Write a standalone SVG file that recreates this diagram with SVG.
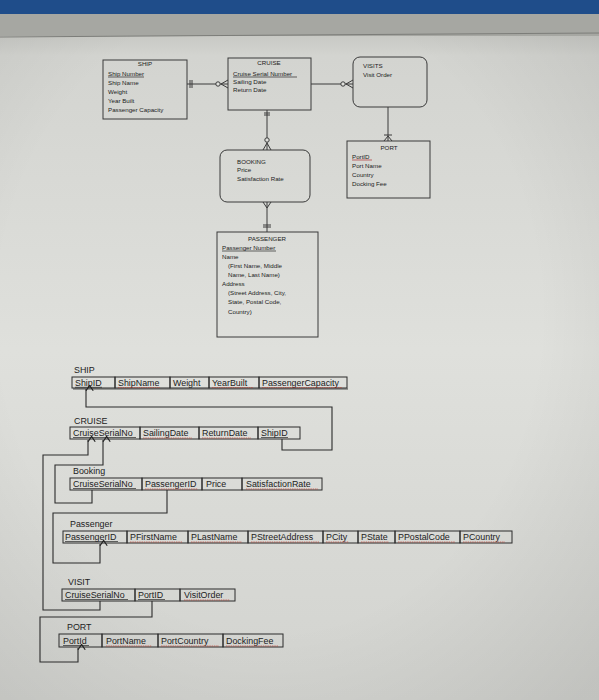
<svg xmlns="http://www.w3.org/2000/svg" width="599" height="700" viewBox="0 0 599 700">
<defs>
<linearGradient id="page" x1="0" y1="0" x2="0" y2="1">
<stop offset="0" stop-color="#b4b5b0"/>
<stop offset="0.08" stop-color="#d3d4d0"/>
<stop offset="0.5" stop-color="#dfe0dc"/>
<stop offset="1" stop-color="#d2d3cf"/>
</linearGradient>
<radialGradient id="vig" cx="0.45" cy="0.45" r="0.75">
<stop offset="0.6" stop-color="#000" stop-opacity="0"/>
<stop offset="1" stop-color="#000" stop-opacity="0.08"/>
</radialGradient>
<marker id="arr" viewBox="0 0 10 10" refX="5" refY="1" markerWidth="9" markerHeight="9" orient="auto" markerUnits="userSpaceOnUse">
<path d="M1,7 L5,1 L9,7" fill="none" stroke="#222" stroke-width="1.3" transform="rotate(90 5 5)"/>
</marker>
</defs>
<style>
.er{fill:none;stroke:#3a3a3a;stroke-width:1}
.et{font-family:"Liberation Sans",Arial,sans-serif;font-size:6.2px;fill:#222}
.ec{text-anchor:middle}
.cell{fill:none;stroke:#2b2b2b;stroke-width:1}
.st{font-family:"Liberation Sans",Arial,sans-serif;font-size:8.9px;fill:#222}
.lb{font-family:"Liberation Sans",Arial,sans-serif;font-size:8.9px;fill:#222}
.sq{stroke:#c0392b;stroke-width:0.8;fill:none;stroke-dasharray:1.5 0.8;opacity:0.8}
.pk{stroke:#2a2a2a;stroke-width:0.7}
.ln{fill:none;stroke:#2b2b2b;stroke-width:1.1}
.cn{fill:none;stroke:#3a3a3a;stroke-width:1}
</style>
<!-- background -->
<rect x="0" y="0" width="599" height="700" fill="url(#page)"/>
<rect x="0" y="0" width="599" height="700" fill="url(#vig)"/>
<rect x="0" y="0" width="599" height="14" fill="#1f4d8a"/>
<rect x="0" y="14" width="599" height="22" fill="#a6a7a2"/>
<line x1="0" y1="37" x2="599" y2="33" stroke="#7c7d79" stroke-width="1"/>

<!-- ER diagram -->
<g id="ship-er">
<rect class="er" x="103" y="60" width="84" height="59"/>
<text class="et ec" x="145" y="66">SHIP</text>
<text class="et" x="108" y="76">Ship Number</text>
<line class="pk" x1="108" y1="77" x2="144" y2="77"/>
<text class="et" x="108" y="85">Ship Name</text>
<text class="et" x="108" y="94">Weight</text>
<text class="et" x="108" y="103">Year Built</text>
<text class="et" x="108" y="112">Passenger Capacity</text>
</g>
<g id="cruise-er">
<rect class="er" x="228" y="58" width="83" height="52"/>
<text class="et ec" x="269" y="65">CRUISE</text>
<text class="et" x="233" y="76">Cruise Serial Number</text>
<line class="pk" x1="233" y1="77" x2="297" y2="77"/>
<text class="et" x="233" y="84">Sailing Date</text>
<text class="et" x="233" y="92">Return Date</text>
</g>
<g id="visits-er">
<rect class="er" x="353" y="57" width="74" height="50" rx="7"/>
<text class="et" x="363" y="68">VISITS</text>
<text class="et" x="363" y="77">Visit Order</text>
</g>
<g id="port-er">
<rect class="er" x="347" y="141" width="83" height="57"/>
<text class="et ec" x="389" y="150">PORT</text>
<text class="et" x="352" y="159">PortID</text>
<line x1="352" y1="160" x2="372" y2="160" stroke="#b03030" stroke-width="0.7"/>
<text class="et" x="352" y="168">Port Name</text>
<text class="et" x="352" y="177">Country</text>
<text class="et" x="352" y="186">Docking Fee</text>
</g>
<g id="booking-er">
<rect class="er" x="220" y="150" width="90" height="52" rx="7"/>
<text class="et" x="237" y="164">BOOKING</text>
<text class="et" x="237" y="172">Price</text>
<text class="et" x="237" y="181">Satisfaction Rate</text>
</g>
<g id="passenger-er">
<rect class="er" x="217" y="232" width="101" height="105"/>
<text class="et ec" x="267" y="241">PASSENGER</text>
<text class="et" x="222" y="250">Passenger Number</text>
<line class="pk" x1="222" y1="251" x2="276" y2="251"/>
<text class="et" x="222" y="259">Name</text>
<text class="et" x="228" y="268">(First Name, Middle</text>
<text class="et" x="228" y="277">Name, Last Name)</text>
<text class="et" x="222" y="286">Address</text>
<text class="et" x="228" y="295">(Street Address, City,</text>
<text class="et" x="228" y="304">State, Postal Code,</text>
<text class="et" x="228" y="314">Country)</text>
</g>

<g id="er-connectors">
<!-- SHIP - CRUISE -->
<line class="cn" x1="187" y1="84" x2="228" y2="84"/>
<line class="cn" x1="190" y1="80" x2="190" y2="88"/>
<line class="cn" x1="192" y1="80" x2="192" y2="88"/>
<circle cx="218" cy="84" r="2.2" fill="#dfe0dc" stroke="#3a3a3a" stroke-width="1"/>
<path class="cn" d="M221,84 L228,80 M221,84 L228,88"/>
<!-- CRUISE - VISITS -->
<line class="cn" x1="311" y1="84" x2="353" y2="84"/>
<circle cx="343" cy="84" r="2.2" fill="#dfe0dc" stroke="#3a3a3a" stroke-width="1"/>
<path class="cn" d="M346,84 L353,80 M346,84 L353,88"/>
<!-- VISITS - PORT -->
<line class="cn" x1="388" y1="107" x2="388" y2="141"/>
<line class="cn" x1="384" y1="135" x2="392" y2="135"/>
<path class="cn" d="M388,136 L384,141 M388,136 L392,141"/>
<!-- CRUISE - BOOKING -->
<line class="cn" x1="267" y1="110" x2="267" y2="150"/>
<line class="cn" x1="264" y1="113" x2="270" y2="113"/>
<line class="cn" x1="264" y1="115" x2="270" y2="115"/>
<circle cx="267" cy="140" r="2.2" fill="#dfe0dc" stroke="#3a3a3a" stroke-width="1"/>
<path class="cn" d="M267,143 L263,150 M267,143 L271,150"/>
<!-- BOOKING - PASSENGER -->
<line class="cn" x1="267" y1="202" x2="267" y2="232"/>
<path class="cn" d="M267,208 L263,202 M267,208 L271,202"/>
<line class="cn" x1="263" y1="225" x2="271" y2="225"/>
<line class="cn" x1="263" y1="227" x2="271" y2="227"/>
</g>

<!-- Relational schema -->
<g id="ship-table">
<text class="lb" x="74" y="373">SHIP</text>
<rect class="cell" x="72" y="377" width="43" height="11"/>
<rect class="cell" x="115" y="377" width="55" height="11"/>
<rect class="cell" x="170" y="377" width="39" height="11"/>
<rect class="cell" x="209" y="377" width="50" height="11"/>
<rect class="cell" x="259" y="377" width="88" height="11"/>
<line x1="73" y1="389" x2="348" y2="389" stroke="#2b2b2b" stroke-width="0.8"/>
<text class="st" x="75" y="386">ShipID</text>
<text class="st" x="118" y="386">ShipName</text>
<text class="st" x="173" y="386">Weight</text>
<text class="st" x="212" y="386">YearBuilt</text>
<text class="st" x="262" y="386">PassengerCapacity</text>
<line class="pk" x1="75" y1="387.3" x2="102" y2="387.3"/>
<path class="sq" d="M118,387.6 H160 M212,387.6 H253 M262,387.6 H342"/>
</g>
<g id="cruise-table">
<text class="lb" x="74" y="424">CRUISE</text>
<rect class="cell" x="70" y="427" width="70" height="12"/>
<rect class="cell" x="140" y="427" width="59" height="12"/>
<rect class="cell" x="199" y="427" width="59" height="12"/>
<rect class="cell" x="258" y="427" width="42" height="12"/>
<text class="st" x="73" y="436">CruiseSerialNo</text>
<text class="st" x="143" y="436">SailingDate</text>
<text class="st" x="202" y="436">ReturnDate</text>
<text class="st" x="261" y="436">ShipID</text>
<line class="pk" x1="73" y1="437.5" x2="136" y2="437.5"/>
<line class="pk" x1="261" y1="437.5" x2="288" y2="437.5"/>
<path class="sq" d="M143,438 H192 M202,438 H251"/>
</g>
<g id="booking-table">
<text class="lb" x="73" y="474">Booking</text>
<rect class="cell" x="70" y="478" width="72" height="12"/>
<rect class="cell" x="142" y="478" width="60" height="12"/>
<rect class="cell" x="202" y="478" width="40" height="12"/>
<rect class="cell" x="242" y="478" width="80" height="12"/>
<text class="st" x="73" y="487">CruiseSerialNo</text>
<text class="st" x="145" y="487">PassengerID</text>
<text class="st" x="206" y="487">Price</text>
<text class="st" x="246" y="487">SatisfactionRate</text>
<line class="pk" x1="73" y1="488.5" x2="136" y2="488.5"/>
<path class="sq" d="M145,489 H198 M246,489 H318"/>
</g>
<g id="passenger-table">
<text class="lb" x="70" y="527">Passenger</text>
<rect class="cell" x="63" y="531" width="64" height="12"/>
<rect class="cell" x="127" y="531" width="61" height="12"/>
<rect class="cell" x="188" y="531" width="60" height="12"/>
<rect class="cell" x="248" y="531" width="75" height="12"/>
<rect class="cell" x="323" y="531" width="35" height="12"/>
<rect class="cell" x="358" y="531" width="37" height="12"/>
<rect class="cell" x="395" y="531" width="65" height="12"/>
<rect class="cell" x="460" y="531" width="52" height="12"/>
<text class="st" x="65" y="540">PassengerID</text>
<text class="st" x="130" y="540">PFirstName</text>
<text class="st" x="191" y="540">PLastName</text>
<text class="st" x="251" y="540">PStreetAddress</text>
<text class="st" x="326" y="540">PCity</text>
<text class="st" x="361" y="540">PState</text>
<text class="st" x="398" y="540">PPostalCode</text>
<text class="st" x="463" y="540">PCountry</text>
<line class="pk" x1="65" y1="541.5" x2="118" y2="541.5"/>
<path class="sq" d="M130,542 H182 M191,542 H242 M251,542 H319 M326,542 H349 M361,542 H389 M398,542 H455 M463,542 H505"/>
</g>
<g id="visit-table">
<text class="lb" x="68" y="585">VISIT</text>
<rect class="cell" x="62" y="589" width="73" height="12"/>
<rect class="cell" x="135" y="589" width="45" height="12"/>
<rect class="cell" x="180" y="589" width="55" height="12"/>
<text class="st" x="65" y="598">CruiseSerialNo</text>
<text class="st" x="138" y="598">PortID</text>
<text class="st" x="184" y="598">VisitOrder</text>
<line class="pk" x1="65" y1="599.5" x2="128" y2="599.5"/>
<line class="pk" x1="138" y1="599.5" x2="165" y2="599.5"/>
<path class="sq" d="M184,600 H230"/>
</g>
<g id="port-table">
<text class="lb" x="67" y="630">PORT</text>
<rect class="cell" x="59" y="634" width="43" height="13"/>
<rect class="cell" x="102" y="634" width="56" height="13"/>
<rect class="cell" x="158" y="634" width="65" height="13"/>
<rect class="cell" x="223" y="634" width="60" height="13"/>
<text class="st" x="63" y="644">PortId</text>
<text class="st" x="106" y="644">PortName</text>
<text class="st" x="161" y="644">PortCountry</text>
<text class="st" x="226" y="644">DockingFee</text>
<line class="pk" x1="63" y1="645.5" x2="89" y2="645.5"/>
<path class="sq" d="M106,646 H152 M161,646 H219 M226,646 H278"/>
</g>

<g id="schema-connectors">
<path class="ln" d="M282,439 V450 H332 V407 H86 V389" marker-end="url(#arr)"/>
<path class="ln" d="M100,601 V610 H43 V455 H88 V440" marker-end="url(#arr)"/>
<path class="ln" d="M92,490 V503 H55 V465 H103 V440" marker-end="url(#arr)"/>
<path class="ln" d="M167,490 V513 H53 V563 H100 V544" marker-end="url(#arr)"/>
<path class="ln" d="M152,601 V617 H40 V662 H78 V648" marker-end="url(#arr)"/>
</g>
</svg>
